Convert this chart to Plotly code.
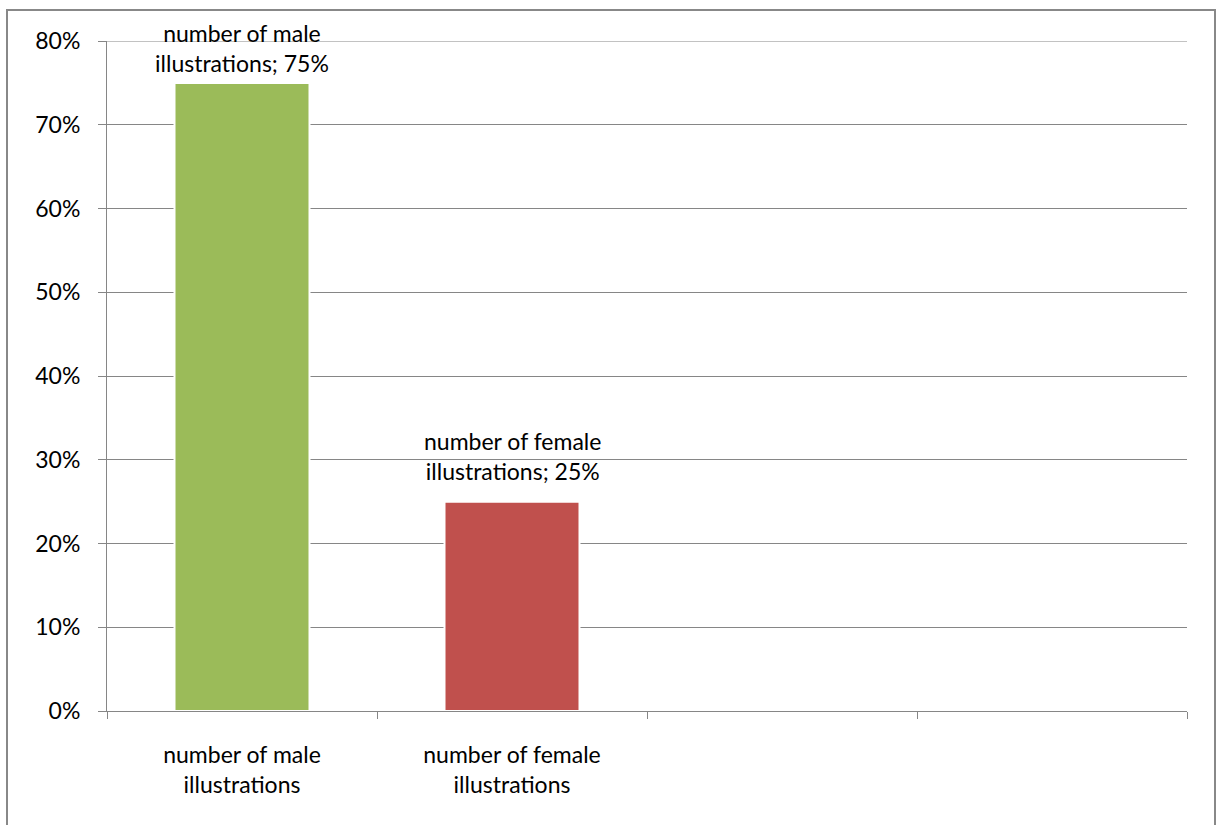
import plotly.graph_objects as go

# Category slots on the x axis (the last two are left empty)
categories = [
    "number of male<br>illustrations",
    "number of female<br>illustrations",
    " ",
    "  ",
]
bar_categories = categories[:2]
shares = [0.75, 0.25]
bar_colors = ["#9BBB59", "#C0504D"]
label_names = ["number of male<br>illustrations", "number of female<br>illustrations"]
label_lift = [4, 15]  # px gap between each data label and its bar top

FONT = "Lato, 'Open Sans', sans-serif"
FSIZE = 23
GRID = "#868686"

W, H = 1216, 825
L, R, T, B = 107, 29, 41, 114
pw, ph = W - L - R, H - T - B
base = H - B  # pixel row of the 0% line

fig = go.Figure()
fig.add_trace(
    go.Bar(
        x=bar_categories,
        y=shares,
        marker=dict(color=bar_colors, line=dict(color="white", width=2)),
        width=0.5,
        hoverinfo="skip",
    )
)

# data labels: "<name>; <value>" above each bar
for cat, val, name, lift in zip(bar_categories, shares, label_names, label_lift):
    fig.add_annotation(
        x=cat, y=val,
        text=f"{name}; {val:.0%}",
        showarrow=False,
        yanchor="bottom",
        yshift=lift,
        font=dict(family=FONT, size=FSIZE, color="#000000"),
    )

# top gridline at the axis maximum
fig.add_shape(
    type="line",
    xref="paper", yref="y",
    x0=0, x1=1, y0=0.8, y1=0.8,
    line=dict(color=GRID, width=1),
    layer="below",
)

# outer chart frame
fig.add_shape(
    type="rect",
    xref="paper", yref="paper",
    x0=(7 - L) / pw, x1=(1215 - L) / pw,
    y0=(base - 840) / ph, y1=(base - 10) / ph,
    line=dict(color="#888888", width=2),
    fillcolor="rgba(0,0,0,0)",
    layer="below",
)

fig.update_layout(
    width=W,
    height=H,
    margin=dict(l=L, r=R, t=T, b=B, pad=0),
    paper_bgcolor="white",
    plot_bgcolor="white",
    showlegend=False,
    font=dict(family=FONT, size=FSIZE, color="#000000"),
    bargap=0.5,
)
fig.update_xaxes(
    type="category",
    categoryorder="array",
    categoryarray=categories,
    range=[-0.5, 3.5],
    tickson="boundaries",
    ticks="outside",
    ticklen=7,
    tickcolor=GRID,
    tickwidth=1,
    showline=True,
    linecolor=GRID,
    linewidth=1,
    showgrid=False,
    ticklabelstandoff=23,
    tickfont=dict(family=FONT, size=FSIZE, color="#000000"),
    fixedrange=True,
)
fig.update_yaxes(
    range=[0, 0.8],
    dtick=0.1,
    tickformat=".0%",
    ticks="outside",
    ticklen=8,
    tickcolor=GRID,
    showline=True,
    linecolor=GRID,
    linewidth=1,
    showgrid=True,
    gridcolor=GRID,
    gridwidth=1,
    zeroline=False,
    ticklabelstandoff=13,
    tickfont=dict(family=FONT, size=FSIZE, color="#000000"),
    fixedrange=True,
)

fig.write_html("out.html")
